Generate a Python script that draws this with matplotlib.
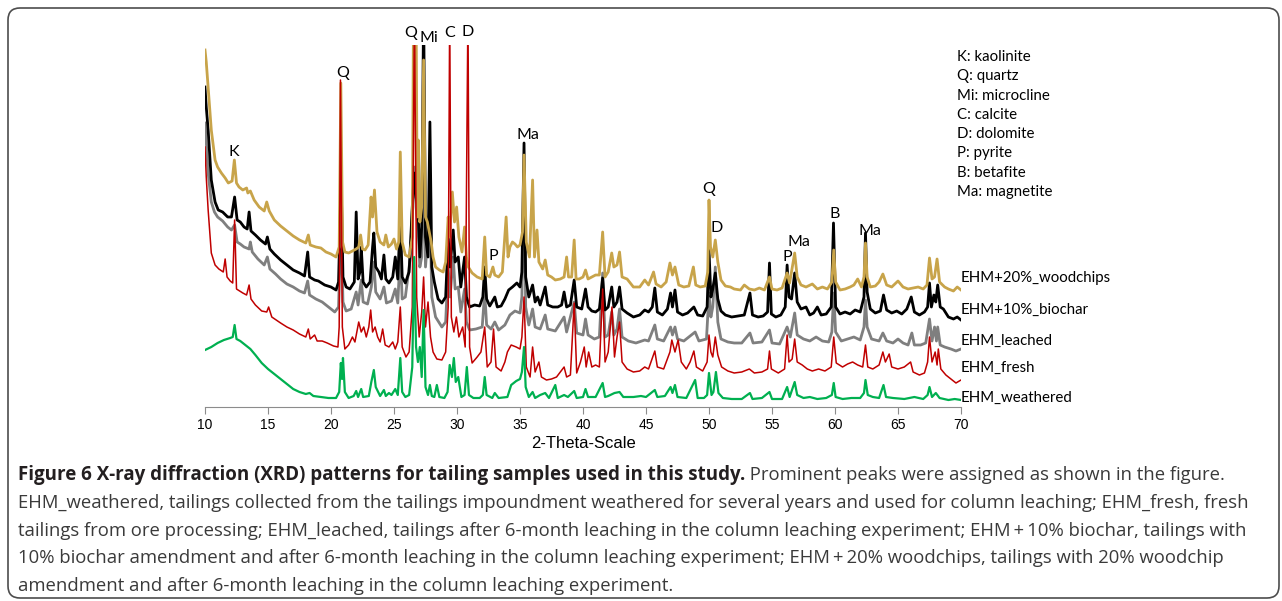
import numpy as np
import matplotlib
matplotlib.use('Agg')
import matplotlib.pyplot as plt
from matplotlib.patches import FancyBboxPatch
from matplotlib.transforms import IdentityTransform

# XRD patterns, (2-theta, intensity) pairs, offsets included
woodchips = [(10.0, 357), (10.1, 345), (10.25, 320), (10.5, 277), (10.8, 247), (11.0, 240), (11.3, 234), (11.6, 229),
             (11.85, 224), (12.15, 226), (12.33, 247), (12.5, 224), (12.7, 220), (13.0, 217), (13.3, 219), (13.4, 214),
             (13.6, 216), (13.9, 207), (14.3, 200), (14.7, 196), (14.9, 205), (15.1, 196), (15.5, 187), (16.0, 181),
             (16.5, 176), (17.0, 171), (17.5, 167), (18.0, 164), (18.2, 172), (18.35, 162), (18.8, 160), (19.2, 159),
             (19.6, 155), (20.0, 153), (20.4, 150), (20.65, 160), (20.78, 324), (20.92, 165), (21.1, 155), (21.4, 154),
             (21.7, 156), (22.0, 158), (22.2, 160), (22.35, 172), (22.5, 158), (22.7, 157), (22.95, 162), (23.18, 210),
             (23.3, 190), (23.45, 217), (23.65, 175), (23.9, 165), (24.2, 162), (24.35, 172), (24.55, 160), (24.8, 163),
             (25.0, 168), (25.2, 158), (25.38, 165), (25.5, 255), (25.65, 165), (25.9, 152), (26.2, 150), (26.45, 170),
             (26.55, 400), (26.75, 400), (26.85, 190), (26.92, 267), (27.05, 185), (27.2, 200), (27.35, 347), (27.5, 190),
             (27.65, 185), (27.8, 175), (27.95, 165), (28.1, 150), (28.3, 140), (28.6, 137), (28.9, 135), (29.1, 145),
             (29.3, 190), (29.4, 170), (29.63, 215), (29.8, 185), (29.97, 200), (30.15, 170), (30.4, 155), (30.6, 180),
             (30.75, 150), (30.9, 140), (31.2, 134), (31.6, 130), (32.0, 128), (32.2, 170), (32.35, 132), (32.6, 130),
             (32.85, 140), (33.0, 132), (33.3, 130), (33.6, 135), (33.9, 190), (34.05, 150), (34.2, 160), (34.4, 165),
             (34.6, 163), (34.8, 160), (35.0, 162), (35.2, 175), (35.32, 252), (35.5, 165), (35.75, 150), (36.0, 227),
             (36.15, 150), (36.35, 177), (36.5, 145), (36.8, 138), (37.0, 147), (37.2, 132), (37.5, 130), (37.8, 127),
             (38.2, 128), (38.5, 130), (38.7, 150), (38.85, 130), (39.1, 130), (39.3, 167), (39.45, 128), (39.7, 128),
             (40.0, 130), (40.2, 137), (40.4, 128), (40.7, 130), (41.0, 132), (41.3, 132), (41.56, 175), (41.75, 130),
             (42.0, 135), (42.28, 154), (42.45, 140), (42.7, 142), (42.9, 155), (43.1, 130), (43.5, 128), (44.0, 120),
             (44.5, 120), (44.9, 127), (45.2, 122), (45.6, 135), (45.8, 123), (46.2, 120), (46.6, 125), (46.9, 144),
             (47.1, 132), (47.3, 140), (47.6, 122), (48.0, 120), (48.4, 121), (48.76, 140), (48.95, 122), (49.3, 120),
             (49.7, 121), (49.9, 135), (50.0, 207), (50.12, 160), (50.3, 150), (50.5, 167), (50.7, 145), (50.95, 127),
             (51.3, 121), (51.7, 120), (52.0, 118), (52.5, 117), (52.8, 122), (53.2, 118), (53.6, 117), (54.0, 119),
             (54.4, 117), (54.8, 130), (55.0, 118), (55.4, 117), (55.8, 119), (56.2, 134), (56.4, 124), (56.8, 154),
             (57.0, 130), (57.3, 122), (57.7, 120), (58.2, 123), (58.6, 118), (59.0, 120), (59.4, 118), (59.75, 125),
             (59.9, 157), (60.05, 125), (60.4, 117), (60.8, 118), (61.2, 120), (61.5, 122), (61.8, 128), (62.1, 120),
             (62.3, 130), (62.42, 164), (62.55, 130), (62.8, 120), (63.2, 121), (63.5, 125), (63.8, 133), (64.1, 122),
             (64.5, 120), (65.0, 126), (65.4, 120), (65.8, 118), (66.2, 119), (66.6, 120), (67.0, 118), (67.3, 122),
             (67.5, 149), (67.7, 128), (67.9, 130), (68.1, 148), (68.3, 125), (68.7, 120), (69.0, 118), (69.4, 116),
             (69.7, 120), (70.0, 117)]

biochar = [(10.0, 320), (10.1, 300), (10.25, 277), (10.5, 227), (10.8, 205), (11.05, 197), (11.4, 195), (11.8, 190),
           (12.1, 190), (12.35, 210), (12.55, 187), (12.8, 185), (13.1, 180), (13.35, 178), (13.5, 195), (13.65, 176),
           (14.0, 172), (14.4, 167), (14.8, 163), (14.95, 170), (15.15, 158), (15.5, 153), (16.0, 147), (16.5, 142),
           (17.0, 137), (17.5, 134), (17.9, 131), (18.15, 155), (18.3, 130), (18.7, 127), (19.0, 126), (19.5, 122),
           (20.0, 120), (20.4, 117), (20.6, 125), (20.8, 230), (20.95, 130), (21.2, 120), (21.5, 118), (21.85, 125),
           (22.0, 195), (22.15, 128), (22.3, 135), (22.4, 160), (22.55, 125), (22.8, 120), (23.1, 125), (23.3, 160),
           (23.4, 174), (23.55, 140), (23.8, 135), (24.0, 128), (24.2, 152), (24.35, 128), (24.6, 124), (24.9, 130),
           (25.1, 150), (25.3, 128), (25.5, 190), (25.65, 130), (25.9, 124), (26.2, 135), (26.45, 200), (26.6, 234),
           (26.75, 210), (26.9, 200), (27.05, 150), (27.2, 180), (27.35, 400), (27.5, 170), (27.7, 150), (27.85, 285),
           (28.0, 140), (28.2, 125), (28.5, 108), (28.8, 104), (29.1, 110), (29.3, 170), (29.45, 140), (29.7, 177),
           (29.85, 145), (30.1, 150), (30.3, 120), (30.6, 150), (30.75, 110), (31.0, 100), (31.4, 102), (31.8, 101),
           (32.05, 110), (32.2, 140), (32.35, 108), (32.6, 101), (33.0, 110), (33.2, 100), (33.5, 101), (33.8, 108),
           (34.1, 117), (34.4, 120), (34.75, 124), (35.0, 120), (35.15, 135), (35.32, 264), (35.45, 130), (35.7, 110),
           (36.0, 122), (36.2, 105), (36.4, 110), (36.6, 102), (37.0, 120), (37.2, 102), (37.6, 100), (38.0, 100),
           (38.3, 102), (38.5, 115), (38.7, 100), (39.0, 102), (39.3, 127), (39.5, 100), (39.9, 98), (40.2, 118),
           (40.4, 100), (40.7, 96), (41.0, 95), (41.3, 98), (41.56, 129), (41.75, 97), (42.0, 100), (42.28, 120),
           (42.45, 100), (42.7, 105), (42.9, 120), (43.1, 98), (43.5, 94), (44.0, 90), (44.5, 92), (44.9, 97),
           (45.2, 95), (45.5, 100), (45.7, 119), (45.9, 95), (46.3, 92), (46.7, 98), (46.95, 114), (47.1, 100),
           (47.3, 117), (47.5, 95), (47.9, 92), (48.3, 94), (48.8, 100), (49.1, 92), (49.5, 91), (49.85, 100),
           (50.0, 157), (50.15, 110), (50.3, 118), (50.5, 134), (50.7, 108), (50.95, 96), (51.3, 92), (51.8, 90),
           (52.3, 91), (52.8, 92), (53.25, 114), (53.45, 92), (53.9, 90), (54.3, 91), (54.65, 95), (54.8, 144),
           (54.95, 93), (55.3, 90), (55.7, 92), (56.05, 100), (56.2, 142), (56.35, 110), (56.55, 108), (56.8, 134),
           (57.0, 105), (57.3, 98), (57.7, 100), (58.0, 92), (58.3, 94), (58.6, 100), (58.9, 92), (59.3, 93),
           (59.7, 100), (59.88, 184), (60.05, 100), (60.4, 93), (60.8, 95), (61.2, 93), (61.6, 97), (62.0, 95),
           (62.3, 110), (62.42, 174), (62.55, 115), (62.8, 98), (63.2, 94), (63.6, 96), (63.85, 112), (64.1, 97),
           (64.5, 94), (64.9, 96), (65.3, 93), (65.7, 98), (66.05, 110), (66.3, 95), (66.7, 92), (67.1, 95),
           (67.35, 100), (67.5, 124), (67.65, 100), (67.85, 112), (68.0, 105), (68.15, 122), (68.35, 100), (68.6, 98),
           (69.0, 90), (69.4, 88), (69.7, 90), (70.0, 87)]

leached = [(10.0, 284), (10.1, 265), (10.25, 234), (10.5, 205), (10.75, 195), (11.0, 190), (11.4, 186), (11.8, 180),
           (12.1, 177), (12.35, 182), (12.55, 165), (12.8, 163), (13.1, 160), (13.5, 158), (13.6, 165), (13.75, 155),
           (14.2, 148), (14.7, 142), (14.95, 150), (15.15, 138), (15.6, 133), (16.0, 128), (16.5, 123), (17.0, 120),
           (17.5, 116), (17.9, 114), (18.15, 126), (18.3, 112), (18.8, 108), (19.3, 105), (19.8, 100), (20.3, 95),
           (20.6, 100), (20.8, 187), (20.95, 105), (21.2, 96), (21.6, 98), (22.0, 115), (22.15, 102), (22.4, 127),
           (22.55, 105), (22.9, 103), (23.2, 120), (23.4, 145), (23.55, 115), (23.9, 108), (24.2, 120), (24.4, 104),
           (24.8, 106), (25.1, 118), (25.3, 104), (25.5, 155), (25.65, 108), (25.9, 110), (26.3, 150), (26.6, 240),
           (26.75, 200), (26.9, 180), (27.05, 140), (27.2, 150), (27.35, 250), (27.5, 140), (27.85, 200), (28.0, 110),
           (28.3, 90), (28.8, 80), (29.1, 85), (29.3, 140), (29.45, 110), (29.7, 150), (29.85, 118), (30.1, 120),
           (30.3, 95), (30.6, 118), (30.75, 85), (31.0, 77), (31.5, 78), (32.0, 80), (32.2, 115), (32.35, 82),
           (32.7, 78), (33.0, 85), (33.3, 77), (33.8, 82), (34.2, 92), (34.6, 96), (35.0, 94), (35.15, 110),
           (35.32, 237), (35.45, 100), (35.7, 82), (36.0, 98), (36.2, 80), (36.6, 78), (37.0, 92), (37.2, 78),
           (37.8, 76), (38.5, 90), (38.7, 75), (39.3, 105), (39.5, 74), (40.0, 72), (40.2, 88), (40.4, 72),
           (40.9, 68), (41.3, 70), (41.56, 134), (41.75, 70), (42.0, 72), (42.28, 95), (42.45, 72), (42.7, 78),
           (42.9, 98), (43.1, 70), (43.6, 66), (44.2, 64), (44.9, 67), (45.2, 66), (45.7, 82), (45.9, 68),
           (46.4, 66), (46.95, 80), (47.1, 72), (47.3, 80), (47.5, 68), (48.0, 66), (48.9, 75), (49.2, 66),
           (49.8, 68), (50.0, 114), (50.15, 90), (50.3, 100), (50.5, 140), (50.7, 85), (50.95, 68), (51.5, 65),
           (52.0, 64), (52.6, 64), (53.25, 74), (53.5, 64), (54.2, 65), (54.8, 77), (55.0, 64), (55.6, 63),
           (56.2, 80), (56.45, 70), (56.8, 94), (57.0, 72), (57.5, 68), (58.0, 66), (58.5, 70), (59.0, 66),
           (59.5, 65), (59.75, 75), (59.9, 114), (60.05, 75), (60.5, 66), (61.0, 68), (61.5, 70), (62.0, 67),
           (62.3, 80), (62.42, 107), (62.55, 80), (62.9, 68), (63.5, 66), (63.8, 74), (64.1, 66), (64.6, 64),
           (65.0, 68), (65.4, 64), (65.8, 62), (66.1, 74), (66.3, 62), (66.8, 62), (67.2, 64), (67.5, 88),
           (67.7, 66), (67.9, 80), (68.05, 66), (68.15, 80), (68.35, 62), (68.7, 60), (69.2, 58), (69.6, 56),
           (70.0, 58)]

fresh = [(10.0, 260), (10.1, 230), (10.25, 197), (10.5, 154), (10.8, 142), (11.1, 138), (11.45, 135), (11.6, 148),
         (11.75, 130), (12.0, 126), (12.2, 124), (12.35, 187), (12.5, 118), (12.75, 116), (13.0, 114), (13.3, 112),
         (13.5, 122), (13.65, 108), (14.0, 102), (14.5, 96), (14.9, 95), (15.05, 100), (15.3, 90), (16.0, 84),
         (16.5, 80), (17.0, 77), (17.5, 73), (18.0, 70), (18.2, 78), (18.35, 68), (18.7, 72), (18.9, 66),
         (19.3, 66), (19.7, 64), (20.2, 61), (20.55, 60), (20.65, 80), (20.75, 327), (20.9, 80), (21.1, 58),
         (21.4, 62), (21.7, 70), (21.9, 65), (22.2, 85), (22.4, 75), (22.6, 80), (22.8, 70), (23.0, 80),
         (23.15, 97), (23.3, 75), (23.5, 80), (23.7, 70), (23.9, 65), (24.1, 78), (24.3, 62), (24.6, 60),
         (24.9, 65), (25.1, 58), (25.3, 65), (25.5, 100), (25.65, 60), (25.95, 50), (26.2, 55), (26.45, 100),
         (26.62, 400), (26.8, 110), (27.0, 70), (27.2, 95), (27.35, 130), (27.5, 80), (27.7, 105), (27.9, 70),
         (28.1, 55), (28.4, 48), (28.8, 47), (29.1, 55), (29.3, 100), (29.42, 400), (29.55, 90), (29.75, 75),
         (29.95, 90), (30.15, 70), (30.45, 80), (30.65, 60), (30.87, 400), (31.0, 60), (31.2, 44), (31.6, 50),
         (31.9, 55), (32.2, 80), (32.4, 40), (32.7, 45), (32.9, 78), (33.1, 40), (33.5, 36), (33.8, 45),
         (34.0, 55), (34.3, 62), (34.7, 60), (35.0, 58), (35.15, 70), (35.32, 110), (35.5, 40), (35.8, 30),
         (36.0, 60), (36.2, 35), (36.5, 45), (36.7, 30), (37.1, 27), (37.5, 28), (37.9, 30), (38.5, 40),
         (38.7, 30), (39.0, 32), (39.3, 104), (39.5, 34), (39.8, 45), (40.1, 60), (40.25, 40), (40.45, 55),
         (40.7, 40), (41.0, 42), (41.3, 40), (41.56, 118), (41.75, 45), (42.0, 55), (42.3, 100), (42.5, 50),
         (42.7, 70), (42.9, 85), (43.1, 45), (43.5, 38), (44.0, 35), (44.5, 36), (44.9, 40), (45.2, 38),
         (45.7, 56), (45.9, 40), (46.4, 38), (46.9, 55), (47.05, 67), (47.3, 55), (47.55, 67), (47.8, 45),
         (48.2, 38), (48.5, 45), (48.8, 56), (49.0, 40), (49.5, 36), (49.85, 45), (50.0, 72), (50.15, 55),
         (50.3, 50), (50.5, 70), (50.7, 52), (51.0, 40), (51.5, 36), (52.0, 34), (52.6, 35), (53.2, 38),
         (53.6, 34), (54.2, 35), (54.65, 38), (54.8, 56), (54.95, 38), (55.5, 34), (56.0, 38), (56.2, 72),
         (56.35, 45), (56.6, 48), (56.8, 68), (57.0, 45), (57.4, 42), (57.8, 38), (58.2, 36), (58.7, 38),
         (59.2, 36), (59.7, 40), (59.9, 70), (60.1, 44), (60.6, 40), (61.0, 43), (61.4, 45), (61.8, 42),
         (62.2, 40), (62.42, 62), (62.6, 40), (63.0, 38), (63.5, 42), (63.8, 55), (64.0, 45), (64.3, 53),
         (64.5, 40), (65.0, 38), (65.5, 40), (66.0, 45), (66.2, 35), (66.7, 32), (67.1, 34), (67.35, 45),
         (67.5, 70), (67.7, 45), (67.95, 55), (68.1, 42), (68.2, 58), (68.4, 38), (68.8, 32), (69.2, 28),
         (69.6, 24), (70.0, 27)]

weathered = [(10.0, 57), (10.5, 60), (11.0, 64), (11.5, 67), (12.0, 69), (12.2, 70), (12.35, 82), (12.5, 68),
             (12.8, 66), (13.2, 62), (13.6, 58), (14.0, 52), (14.5, 44), (15.0, 38), (15.5, 33), (16.0, 28),
             (16.5, 23), (17.0, 18), (17.5, 15), (18.0, 13), (18.3, 14), (18.6, 11), (19.2, 10), (19.8, 9),
             (20.4, 9), (20.65, 15), (20.78, 44), (20.88, 28), (20.95, 49), (21.1, 15), (21.4, 9), (21.8, 11),
             (22.0, 16), (22.15, 10), (22.4, 18), (22.55, 10), (23.0, 11), (23.2, 25), (23.4, 37), (23.55, 20),
             (23.9, 11), (24.2, 17), (24.35, 11), (24.6, 14), (24.8, 12), (25.1, 18), (25.3, 12), (25.5, 49),
             (25.65, 15), (25.9, 10), (26.2, 12), (26.45, 40), (26.6, 150), (26.75, 60), (26.9, 45), (27.05, 60),
             (27.2, 30), (27.35, 97), (27.5, 20), (27.7, 12), (27.85, 22), (28.0, 11), (28.2, 10), (28.4, 22),
             (28.6, 10), (29.0, 9), (29.25, 15), (29.42, 42), (29.6, 30), (29.75, 49), (29.9, 25), (30.1, 30),
             (30.35, 10), (30.6, 12), (30.78, 40), (30.95, 12), (31.3, 9), (31.8, 9), (32.05, 12), (32.2, 30),
             (32.35, 12), (32.8, 9), (33.0, 14), (33.3, 9), (34.0, 10), (34.3, 22), (34.7, 26), (35.0, 28),
             (35.15, 35), (35.32, 60), (35.45, 20), (35.7, 10), (36.0, 15), (36.2, 9), (36.6, 12), (37.0, 14),
             (37.3, 9), (37.8, 22), (38.0, 9), (38.5, 12), (38.8, 10), (39.3, 16), (39.5, 9), (40.0, 10),
             (40.2, 18), (40.4, 10), (41.0, 10), (41.56, 24), (41.75, 10), (42.0, 11), (42.5, 14), (42.9, 15),
             (43.2, 10), (44.0, 10), (44.6, 11), (45.0, 10), (45.7, 17), (45.9, 10), (46.5, 11), (46.95, 20),
             (47.1, 14), (47.3, 22), (47.5, 10), (48.2, 9), (48.9, 27), (49.1, 9), (49.6, 9), (49.85, 12),
             (50.0, 34), (50.2, 12), (50.35, 15), (50.55, 35), (50.75, 14), (51.1, 9), (51.8, 8), (52.6, 8),
             (53.25, 14), (53.45, 8), (54.2, 9), (54.8, 15), (55.0, 8), (55.8, 8), (56.2, 20), (56.4, 10),
             (56.8, 25), (57.0, 12), (57.5, 9), (58.0, 10), (58.6, 8), (59.3, 9), (59.75, 12), (59.9, 24),
             (60.05, 10), (60.6, 8), (61.3, 9), (62.0, 9), (62.3, 14), (62.42, 27), (62.6, 12), (63.0, 10),
             (63.5, 9), (63.85, 22), (64.05, 10), (64.6, 9), (65.5, 8), (66.3, 10), (67.0, 8), (67.35, 12),
             (67.5, 20), (67.7, 10), (68.0, 14), (68.3, 9), (69.0, 7), (69.5, 8), (70.0, 7)]

sample_names = ['EHM+20%_woodchips', 'EHM+10%_biochar', 'EHM_leached', 'EHM_fresh', 'EHM_weathered']
name_y = [129, 97, 66, 39, 9]

# peak labels: text, 2-theta, height
peak_labels = [('K', 12.3, 255), ('Q', 20.9, 334), ('Q', 26.35, 374), ('Mi', 27.75, 369), ('C', 29.45, 374),
               ('D', 30.85, 375), ('P', 32.85, 151), ('Ma', 35.6, 272), ('Q', 49.95, 218), ('D', 50.6, 179),
               ('P', 56.25, 150), ('Ma', 57.15, 165), ('B', 59.95, 193), ('Ma', 62.8, 176)]

mineral_keys = ['K: kaolinite', 'Q: quartz', 'Mi: microcline', 'C: calcite', 'D: dolomite',
                'P: pyrite', 'B: betafite', 'Ma: magnetite']

caption_bold = 'Figure 6 X-ray diffraction (XRD) patterns for tailing samples used in this study.'
caption_lines = [
    ' Prominent peaks were assigned as shown in the figure.',
    'EHM_weathered, tailings collected from the tailings impoundment weathered for several years and used for column leaching; EHM_fresh, fresh',
    'tailings from ore processing; EHM_leached, tailings after 6-month leaching in the column leaching experiment; EHM\u2009+\u200910% biochar, tailings with',
    '10% biochar amendment and after 6-month leaching in the column leaching experiment; EHM\u2009+\u200920% woodchips, tailings with 20% woodchip',
    'amendment and after 6-month leaching in the column leaching experiment.',
]

W, H = 1282, 601
fig = plt.figure(figsize=(W / 100, H / 100), dpi=100)
ax = fig.add_axes([205 / W, (H - 407) / H, 756 / W, 362 / H])

# draw order: gray, black, gold, red, green
styles = {
    'leached': dict(color='#7f7f7f', lw=2.0, zorder=2),
    'biochar': dict(color='#000000', lw=2.0, zorder=3),
    'woodchips': dict(color='#c8a44a', lw=2.0, zorder=4),
    'fresh': dict(color='#c00000', lw=1.1, zorder=5),
    'weathered': dict(color='#00b050', lw=1.6, zorder=6),
}
data = {'woodchips': woodchips, 'biochar': biochar, 'leached': leached, 'fresh': fresh, 'weathered': weathered}
for key, pts in data.items():
    x, y = np.array(pts).T
    ax.plot(x, y, solid_joinstyle='round', **styles[key])

ax.set_xlim(10, 70)
ax.set_ylim(0, 362)
ax.set_xticks(np.arange(10, 71, 5))
for s in ['top', 'right', 'left']:
    ax.spines[s].set_visible(False)
ax.spines['bottom'].set_color('#8c8c8c')
ax.set_yticks([])
ax.tick_params(axis='x', direction='out', length=5, color='#8c8c8c', labelsize=10, pad=3)
for t in ax.get_xticklabels():
    t.set_fontfamily('Liberation Sans')
ax.set_xlabel('2-Theta-Scale', fontsize=12, family='Liberation Sans', labelpad=3)
ax.patch.set_visible(False)

lab_font = ['Lato', 'DejaVu Sans']
for txt, xx, yy in peak_labels:
    ax.text(xx, yy, txt, ha='center', va='center', fontsize=11.5, family=lab_font, clip_on=False)

for name, yy in zip(sample_names, name_y):
    ax.text(70.0, yy, name, ha='left', va='center', fontsize=10.8, family=lab_font, clip_on=False)

for i, k in enumerate(mineral_keys):
    fig.text(957 / W, 1 - (57 + i * 19.3) / H, k, ha='left', va='center', fontsize=10.8, family=lab_font)

# caption, sized to the measured text widths of the original
renderer = fig.canvas.get_renderer()
cap_font = ['Open Sans', 'DejaVu Sans']
probe = fig.text(0, 0, caption_lines[1], fontsize=13, family=cap_font)
reg_size = 13 * 1228 / probe.get_window_extent(renderer).width
probe.remove()
probe = fig.text(0, 0, caption_bold, fontsize=13, family=cap_font, weight='bold')
bold_size = 13 * 720 / probe.get_window_extent(renderer).width
probe.remove()

line_y = [475, 503, 531, 558, 586]
bt = fig.text(18 / W, 1 - line_y[0] / H, caption_bold, fontsize=bold_size, family=cap_font, weight='bold',
              color='#231f20', va='center', ha='left')
bx = bt.get_window_extent(renderer).x1
fig.text(bx / W, 1 - line_y[0] / H, caption_lines[0], fontsize=reg_size, family=cap_font,
         color='#3a3a3a', va='center', ha='left')
for ln, yy in zip(caption_lines[1:], line_y[1:]):
    fig.text(18 / W, 1 - yy / H, ln, fontsize=reg_size, family=cap_font, color='#3a3a3a', va='center', ha='left')

frame = FancyBboxPatch((8, 3), 1271, 590, boxstyle='round,pad=0,rounding_size=12',
                       transform=IdentityTransform(), fill=False, edgecolor='#4d4d4d', lw=1.2)
fig.add_artist(frame)

fig.savefig('out.png', dpi=100)
